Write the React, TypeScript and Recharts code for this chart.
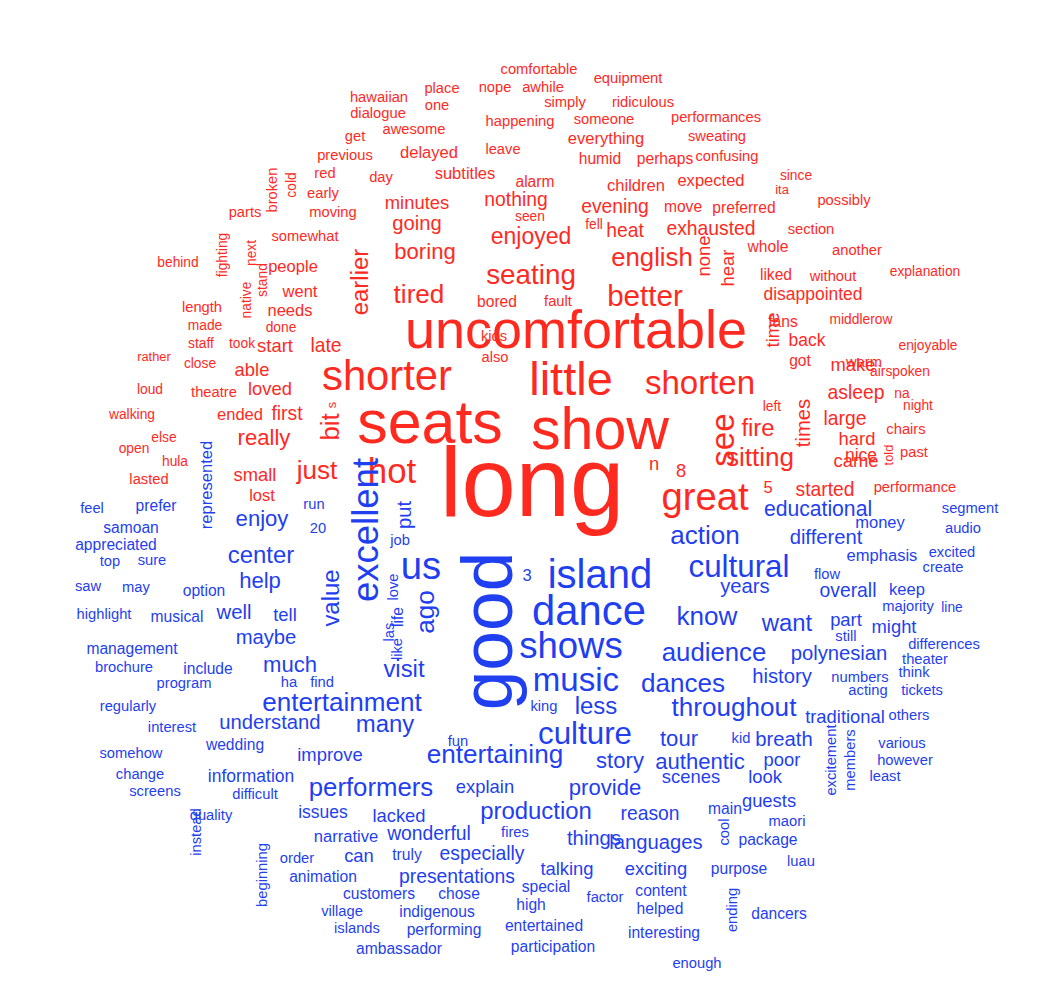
import { ScatterChart, Scatter, XAxis, YAxis } from "recharts";

// [word, x, y, size]
const redWords: [string, number, number, number][] = [
  ["comfortable", 539, 69, 16], ["place", 442, 88, 16], ["nope", 495, 87, 16], ["awhile", 543, 87, 16],
  ["equipment", 628, 78, 16], ["hawaiian", 379, 97, 16], ["one", 437, 105, 16], ["simply", 565, 102, 16],
  ["ridiculous", 643, 102, 16], ["dialogue", 378, 113, 16], ["awesome", 414, 129, 16], ["happening", 520, 121, 16],
  ["someone", 604, 119, 16], ["performances", 716, 117, 16], ["get", 355, 136, 16], ["everything", 606, 138, 18],
  ["sweating", 717, 136, 16], ["previous", 345, 155, 16], ["delayed", 429, 152, 18], ["leave", 503, 149, 16],
  ["humid", 600, 158, 17], ["perhaps", 665, 158, 17], ["confusing", 727, 156, 16], ["red", 325, 173, 16],
  ["day", 381, 177, 16], ["subtitles", 465, 173, 18], ["since", 796, 175, 15], ["early", 323, 193, 16],
  ["alarm", 535, 181, 17], ["children", 636, 185, 18], ["expected", 711, 180, 18], ["ita", 782, 189, 14],
  ["possibly", 844, 200, 16], ["broken", 272, 190, 16], ["cold", 291, 185, 15], ["parts", 245, 212, 16],
  ["moving", 333, 212, 16], ["minutes", 417, 202, 20], ["nothing", 516, 199, 21], ["evening", 615, 206, 21],
  ["preferred", 744, 207, 17], ["seen", 530, 216, 15], ["fell", 594, 224, 15], ["move", 683, 206, 17],
  ["section", 811, 229, 16], ["fighting", 222, 255, 15], ["next", 251, 253, 15], ["somewhat", 305, 236, 16],
  ["going", 417, 223, 22], ["heat", 625, 230, 21], ["exhausted", 711, 228, 21], ["enjoyed", 531, 236, 25],
  ["native", 246, 300, 15], ["stand", 262, 280, 15], ["boring", 425, 251, 24], ["english", 652, 257, 28],
  ["none", 703, 256, 20], ["hear", 727, 268, 20], ["whole", 768, 246, 17], ["another", 857, 250, 16],
  ["behind", 178, 262, 15], ["people", 293, 266, 18], ["seating", 531, 274, 32], ["earlier", 359, 282, 26],
  ["tired", 419, 294, 30], ["better", 645, 295, 34], ["liked", 776, 274, 17], ["without", 833, 276, 16],
  ["explanation", 925, 271, 15], ["went", 300, 291, 18], ["bored", 497, 301, 17], ["fault", 558, 301, 16],
  ["disappointed", 813, 294, 19], ["length", 202, 307, 16], ["needs", 290, 310, 18], ["done", 281, 327, 15],
  ["made", 205, 325, 15], ["time", 772, 330, 20], ["fans", 783, 321, 17], ["middlerow", 861, 319, 15],
  ["staff", 201, 343, 15], ["took", 242, 343, 15], ["start", 275, 345, 20], ["late", 326, 345, 21],
  ["kids", 494, 336, 16], ["back", 807, 340, 19], ["enjoyable", 928, 345, 15], ["rather", 154, 356, 14],
  ["close", 200, 363, 15], ["warm", 864, 362, 16], ["uncomfortable", 576, 329, 62], ["little", 571, 378, 54],
  ["shorter", 387, 375, 48], ["shorten", 700, 382, 38], ["able", 252, 369, 20], ["loved", 270, 388, 20],
  ["also", 495, 357, 16], ["got", 800, 360, 17], ["make", 853, 364, 20], ["airspoken", 900, 371, 15],
  ["loud", 150, 389, 15], ["theatre", 214, 392, 16], ["asleep", 856, 392, 21], ["na", 902, 393, 15],
  ["walking", 132, 414, 15], ["ended", 240, 414, 18], ["first", 287, 413, 21], ["really", 264, 437, 24],
  ["s", 331, 405, 14], ["bit", 330, 427, 28], ["seats", 430, 422, 70], ["show", 600, 428, 68],
  ["see", 722, 440, 38], ["fire", 758, 427, 26], ["times", 803, 423, 22], ["left", 772, 406, 15],
  ["large", 845, 418, 21], ["night", 918, 405, 15], ["chairs", 906, 429, 16], ["open", 134, 448, 15],
  ["else", 164, 437, 15], ["hula", 175, 461, 15], ["lasted", 149, 479, 16], ["hard", 857, 438, 20],
  ["nice", 861, 455, 19], ["told", 888, 455, 14], ["past", 914, 452, 16], ["small", 255, 474, 20],
  ["hot", 392, 470, 40], ["just", 317, 470, 30], ["n", 654, 463, 20], ["8", 681, 470, 20],
  ["sitting", 760, 457, 30], ["great", 705, 496, 44], ["came", 856, 460, 20], ["long", 532, 482, 112],
  ["lost", 262, 495, 18], ["5", 768, 487, 18], ["started", 825, 489, 21], ["performance", 915, 487, 16],
];

const blueWords: [string, number, number, number][] = [
  ["represented", 206, 485, 18], ["feel", 92, 508, 16], ["prefer", 156, 505, 17], ["run", 314, 504, 16],
  ["put", 404, 515, 22], ["enjoy", 262, 518, 24], ["educational", 818, 508, 23], ["segment", 970, 508, 16],
  ["samoan", 131, 527, 17], ["20", 318, 528, 16], ["excellent", 365, 530, 42], ["action", 705, 535, 30],
  ["different", 826, 537, 22], ["money", 880, 522, 18], ["audio", 963, 528, 16], ["appreciated", 116, 544, 17],
  ["us", 421, 565, 44], ["job", 400, 540, 16], ["good", 487, 631, 82], ["3", 527, 575, 18],
  ["island", 600, 574, 46], ["cultural", 739, 566, 36], ["emphasis", 882, 555, 18], ["excited", 952, 552, 16],
  ["top", 110, 561, 16], ["sure", 152, 560, 16], ["center", 261, 554, 26], ["create", 943, 567, 16],
  ["saw", 88, 586, 16], ["may", 136, 587, 16], ["option", 204, 590, 17], ["love", 393, 587, 16],
  ["help", 260, 580, 24], ["years", 745, 586, 22], ["flow", 827, 574, 16], ["overall", 848, 590, 21],
  ["keep", 907, 589, 18], ["value", 330, 598, 26], ["ago", 425, 612, 30], ["dance", 589, 610, 48],
  ["know", 707, 616, 30], ["majority", 908, 606, 16], ["line", 952, 607, 15], ["highlight", 104, 614, 16],
  ["musical", 177, 616, 17], ["well", 234, 612, 22], ["tell", 285, 614, 20], ["life", 397, 617, 17],
  ["want", 787, 622, 26], ["part", 846, 619, 20], ["might", 894, 626, 20], ["management", 132, 648, 17],
  ["maybe", 266, 637, 22], ["las", 389, 632, 16], ["still", 846, 636, 16], ["shows", 571, 645, 42],
  ["audience", 714, 652, 28], ["differences", 944, 644, 16], ["brochure", 124, 667, 16], ["include", 208, 668, 17],
  ["like", 397, 649, 16], ["theater", 925, 659, 16], ["much", 290, 664, 24], ["visit", 404, 668, 26],
  ["polynesian", 839, 653, 22], ["music", 576, 679, 38], ["dances", 683, 683, 30], ["program", 184, 683, 16],
  ["ha", 289, 682, 16], ["find", 322, 682, 16], ["history", 782, 676, 22], ["numbers", 860, 677, 16],
  ["think", 914, 672, 16], ["acting", 868, 690, 16], ["tickets", 922, 690, 16], ["regularly", 128, 706, 16],
  ["entertainment", 342, 702, 30], ["throughout", 734, 707, 30], ["less", 596, 705, 26], ["king", 544, 706, 16],
  ["others", 909, 715, 16], ["interest", 172, 727, 16], ["understand", 270, 722, 22], ["many", 385, 723, 26],
  ["traditional", 845, 716, 20], ["culture", 585, 733, 36], ["tour", 679, 738, 24], ["kid", 741, 738, 16],
  ["breath", 784, 739, 22], ["excitement", 831, 760, 16], ["members", 850, 760, 16], ["various", 902, 743, 16],
  ["somehow", 131, 753, 16], ["wedding", 235, 744, 17], ["improve", 330, 754, 20], ["fun", 458, 741, 16],
  ["entertaining", 495, 754, 30], ["story", 620, 760, 24], ["authentic", 700, 761, 24], ["poor", 782, 759, 20],
  ["however", 905, 760, 16], ["change", 140, 774, 16], ["information", 251, 776, 19], ["scenes", 691, 776, 20],
  ["look", 765, 776, 20], ["least", 885, 776, 16], ["performers", 371, 787, 28], ["explain", 485, 786, 20],
  ["provide", 605, 787, 24], ["screens", 155, 791, 16], ["difficult", 255, 794, 16], ["guests", 769, 800, 20],
  ["issues", 323, 812, 19], ["lacked", 399, 815, 20], ["production", 536, 810, 26], ["reason", 650, 813, 21],
  ["main", 725, 808, 17], ["quality", 211, 815, 16], ["narrative", 346, 836, 18], ["wonderful", 429, 833, 21],
  ["fires", 515, 832, 16], ["things", 594, 838, 22], ["cool", 724, 832, 16], ["languages", 656, 842, 22],
  ["maori", 787, 821, 16], ["package", 768, 839, 17], ["instead", 196, 832, 16], ["beginning", 262, 875, 16],
  ["can", 359, 855, 20], ["truly", 407, 854, 17], ["especially", 482, 853, 21], ["order", 297, 858, 16],
  ["talking", 567, 868, 20], ["exciting", 656, 868, 20], ["purpose", 739, 868, 17], ["luau", 801, 861, 16],
  ["animation", 323, 876, 17], ["presentations", 457, 876, 21], ["special", 546, 886, 17], ["factor", 605, 897, 16],
  ["content", 661, 890, 17], ["ending", 732, 910, 16], ["customers", 379, 893, 17], ["chose", 459, 893, 17],
  ["high", 531, 904, 17], ["helped", 660, 908, 17], ["village", 342, 911, 16], ["indigenous", 437, 911, 17],
  ["entertained", 544, 925, 17], ["dancers", 779, 913, 17], ["islands", 357, 928, 16], ["performing", 444, 929, 17],
  ["interesting", 664, 932, 17], ["ambassador", 399, 948, 17], ["participation", 553, 946, 17], ["enough", 697, 963, 16],
];

const verticalWords = [
  "broken", "cold", "fighting", "next", "native", "stand", "earlier", "none", "hear", "time", "s", "bit",
  "see", "times", "told", "represented", "put", "excellent", "good", "love", "value", "ago", "las", "like",
  "life", "excitement", "members", "cool", "instead", "beginning", "ending",
];

const toRows = (list: [string, number, number, number][]) =>
  list.map(([word, x, y, size]) => ({ word, x, y, size, vertical: verticalWords.includes(word) }));

// estimated sizes run a bit large in Liberation Sans, so shrink them
const fontFor = (size: number) => (size > 28 ? size * 0.87 : size * 0.92);

const WordShape = (color: string) => (props: any) => {
  const { cx, cy, payload } = props;
  return (
    <text
      x={cx}
      y={cy}
      fill={color}
      fontSize={fontFor(payload.size)}
      fontFamily="Liberation Sans, Arial, sans-serif"
      textAnchor="middle"
      dominantBaseline="central"
      transform={payload.vertical ? `rotate(-90 ${cx} ${cy})` : undefined}
    >
      {payload.word}
    </text>
  );
};

export default function App() {
  return (
    <div style={{ position: "absolute", left: 0, top: 0, background: "#fff" }}>
      <ScatterChart width={1046} height={998} margin={{ top: 0, right: 0, bottom: 0, left: 0 }}>
        <XAxis type="number" dataKey="x" domain={[0, 1046]} hide />
        <YAxis type="number" dataKey="y" domain={[0, 998]} reversed hide />
        <Scatter data={toRows(redWords)} shape={WordShape("#ff2a1f")} isAnimationActive={false} />
        <Scatter data={toRows(blueWords)} shape={WordShape("#1f3ff0")} isAnimationActive={false} />
      </ScatterChart>
    </div>
  );
}
